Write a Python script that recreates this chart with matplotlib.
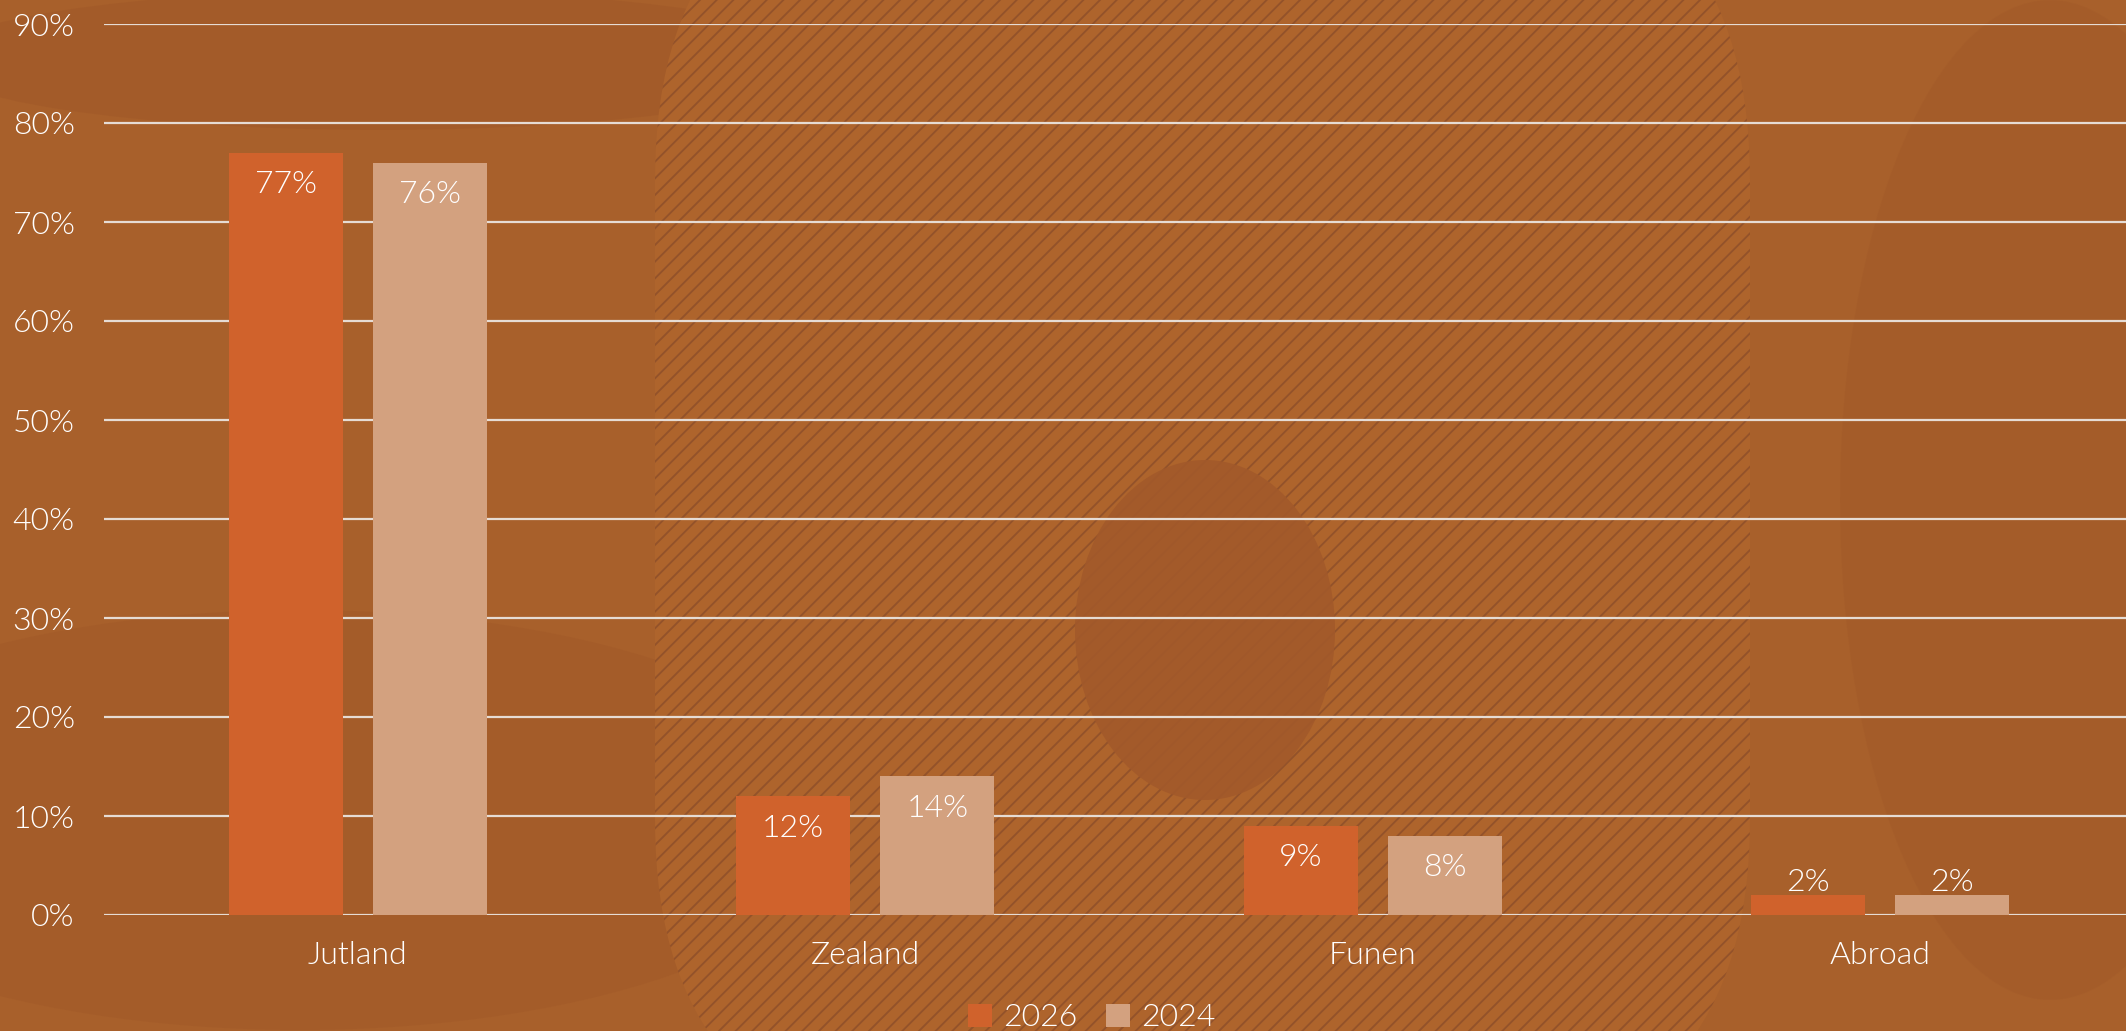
import matplotlib
matplotlib.use("Agg")
import numpy as np
import matplotlib.pyplot as plt
from matplotlib.patches import Patch, FancyBboxPatch, Ellipse

# ---- data ----
regions = ["Jutland", "Zealand", "Funen", "Abroad"]
share_2026 = [77, 12, 9, 2]
share_2024 = [76, 14, 8, 2]
series_labels = ["2026", "2024"]
y_ticks = list(range(0, 100, 10))

# ---- style ----
bg_color = "#A8602B"
col_2026 = "#D0622C"
col_2024 = "#D3A17F"
grid_color = "#E6DCD4"
txt_color = "white"
fw = 300
fs = 23
plt.rcParams["font.family"] = ["Lato", "DejaVu Sans"]
plt.rcParams["hatch.linewidth"] = 1.3

fig = plt.figure(figsize=(21.26, 10.31), dpi=100)
fig.patch.set_facecolor(bg_color)

# decorative background shapes
deco = fig.add_axes([0, 0, 1, 1], zorder=0)
deco.set_xlim(0, 2126)
deco.set_ylim(1031, 0)
deco.axis("off")
deco.add_patch(Ellipse((380, 60), 900, 140, facecolor="#A25A29", alpha=0.7, lw=0))
deco.add_patch(Ellipse((300, 820), 1100, 420, facecolor="#A25A29", alpha=0.6, lw=0))
deco.add_patch(FancyBboxPatch((655, -150), 1095, 1300,
                              boxstyle="round,pad=0,rounding_size=330",
                              facecolor="#AE642C", edgecolor="#93522A",
                              hatch="//", lw=0))
deco.add_patch(Ellipse((1205, 630), 260, 340, facecolor="#A2592A", alpha=0.9, lw=0))
deco.add_patch(Ellipse((2050, 500), 420, 1000, facecolor="#A25A29", alpha=0.5, lw=0))

ax = fig.add_axes([104 / 2126, 116 / 1031, 2030 / 2126, 891 / 1031], zorder=1)
ax.set_facecolor("none")

x = np.arange(len(regions))
w = 0.2246
off = 0.142
b1 = ax.bar(x - off, share_2026, w, color=col_2026, zorder=3)
b2 = ax.bar(x + off, share_2024, w, color=col_2024, zorder=3)

for bars, vals in [(b1, share_2026), (b2, share_2024)]:
    for r, v in zip(bars, vals):
        cx = r.get_x() + r.get_width() / 2
        if v >= 5:
            ax.annotate(f"{v}%", (cx, v), xytext=(0, -23), textcoords="offset points",
                        ha="center", va="center", color=txt_color, fontsize=fs,
                        fontweight=fw, zorder=4)
        else:
            ax.annotate(f"{v}%", (cx, v), xytext=(0, -1), textcoords="offset points",
                        ha="center", va="bottom", color=txt_color, fontsize=fs,
                        fontweight=fw, zorder=4)

ax.set_xlim(-0.5, len(regions) - 0.5)
ax.set_ylim(0, 90)
ax.set_yticks(y_ticks)
ax.set_yticklabels([f"{t}%" for t in y_ticks])
ax.set_xticks(x)
ax.set_xticklabels(regions)
ax.yaxis.grid(True, color=grid_color, linewidth=1.6, zorder=2)
ax.set_axisbelow(False)
for s in ax.spines.values():
    s.set_visible(False)
ax.tick_params(axis="y", length=0, pad=21, labelsize=fs, labelcolor=txt_color)
ax.tick_params(axis="x", length=0, pad=19, labelsize=fs, labelcolor=txt_color)
for lbl in ax.get_xticklabels() + ax.get_yticklabels():
    lbl.set_fontweight(fw)

handles = [Patch(facecolor=col_2026, edgecolor="none"),
           Patch(facecolor=col_2024, edgecolor="none")]
leg = fig.legend(handles, series_labels, loc="center", ncol=2,
                 bbox_to_anchor=(1092 / 2126, 13 / 1031), frameon=False,
                 handlelength=0.75, handleheight=0.75, handletextpad=0.35,
                 columnspacing=0.9, prop={"size": fs, "weight": fw})
for t in leg.get_texts():
    t.set_color(txt_color)

fig.savefig("out.png", dpi=100, facecolor=fig.get_facecolor())
